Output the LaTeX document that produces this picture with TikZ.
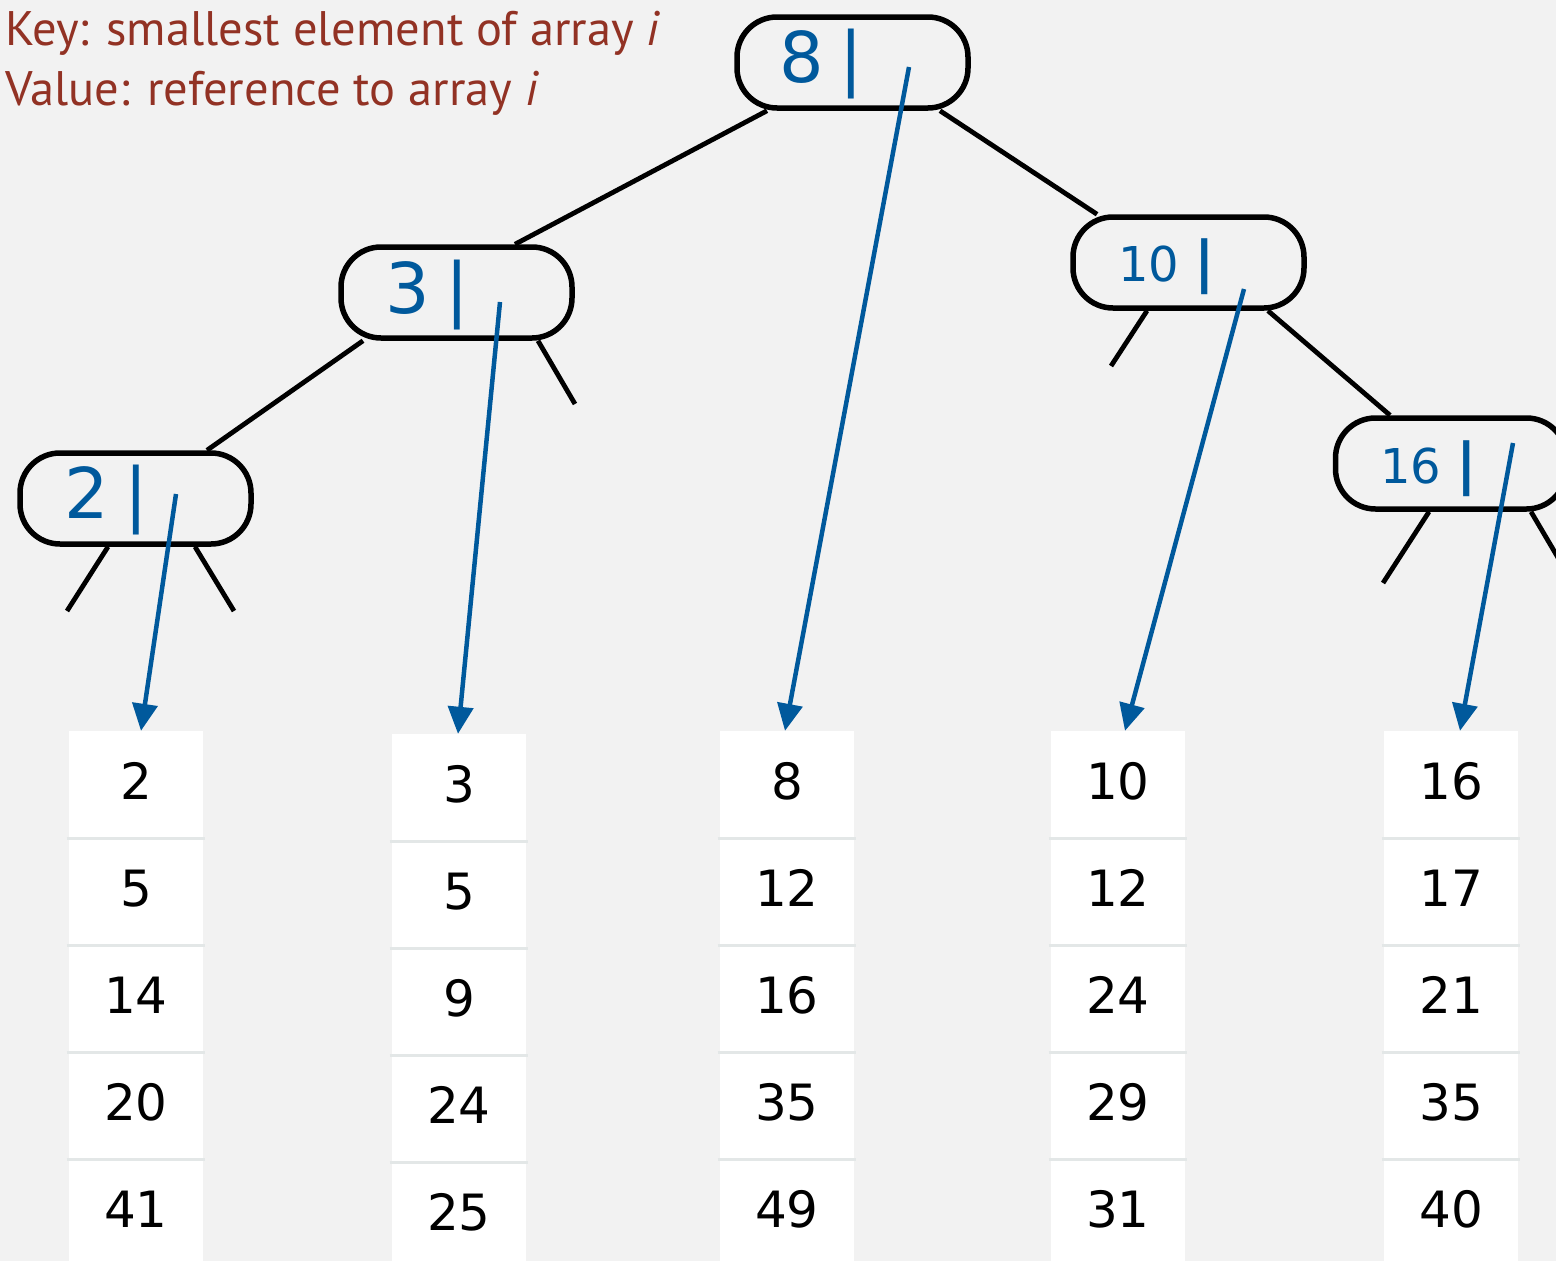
\documentclass[tikz,border=0pt]{standalone}
\usepackage{fontspec}
\setmainfont{DejaVu Sans}
\newfontfamily\keyfont{PT Sans}
\usetikzlibrary{arrows.meta,calc}
\definecolor{bg}{HTML}{F2F2F2}
\definecolor{keyred}{HTML}{923224}
\definecolor{refblue}{HTML}{00599C}
\definecolor{sepgray}{HTML}{E3E7E7}
\begin{document}
\begin{tikzpicture}[x=1pt,y=-1pt,
  treebox/.style={draw=black, line width=5.5pt, rounded corners=40pt, minimum width=231pt, minimum height=91pt, inner sep=0pt},
  edge/.style={draw=black, line width=4.8pt},
  refarrow/.style={draw=refblue, line width=4.5pt, -{Triangle[length=27pt,width=25pt]}},
  bigkey/.style={text=refblue, font=\fontsize{70}{70}\selectfont, anchor=base west, inner sep=0pt},
  smallkey/.style={text=refblue, font=\fontsize{48}{48}\selectfont, anchor=base west, inner sep=0pt},
  keytext/.style={text=keyred, font=\keyfont\fontsize{48.5}{48.5}\selectfont, anchor=base west, inner sep=0pt},
  cell/.style={fill=white, minimum width=134pt, minimum height=107pt, inner sep=0pt, text height=36pt, text depth=6pt, font=\fontsize{50}{50}\selectfont},
  sepline/.style={draw=sepgray, line width=3pt}
]
\useasboundingbox (0,0) rectangle (1556,1261);
\fill[bg] (0,0) rectangle (1556,1261);
\clip (0,0) rectangle (1556,1261);

% legend
\node[keytext] (key1) at (5,45) {Key: smallest element of array \textit{i}};
\node[keytext] (key2) at (5,105) {Value: reference to array \textit{i}};

% array columns
\foreach \col/\x/\dy/\a/\b/\c/\d/\e in {1/136/0/2/5/14/20/41, 2/459/3/3/5/9/24/25, 3/787/0/8/12/16/35/49, 4/1118/0/10/12/24/29/31, 5/1451/0/16/17/21/35/40}{
  \foreach \v [count=\r] in {\a,\b,\c,\d,\e} {
    \node[cell] (c\col-\r) at (\x, {731+\dy+(\r-1)*107+53.5}) {\v};
  }
  \foreach \r in {1,...,4} {
    \draw[sepline] ([xshift=-2pt]c\col-\r.south west) -- ([xshift=2pt]c\col-\r.south east);
  }
}

% tree nodes
\node[treebox] (root) at (852.5,62.5) {};
\node[treebox] (n3) at (456.5,292.5) {};
\node[treebox] (n10) at (1188.5,262.5) {};
\node[treebox] (n16) at (1451,463.5) {};
\node[treebox] (n2) at (135.5,498.5) {};

\node[bigkey] (t8) at (779,82) {8\hspace{0.22em}|};
\node[bigkey] (t3) at (385,313) {3\hspace{0.22em}|};
\node[bigkey] (t2) at (64,518) {2\hspace{0.22em}|};
\node[smallkey] (t10) at (1118,281) {10 {\fontsize{56}{56}\selectfont\bfseries |}};
\node[smallkey] (t16) at (1380,483) {16 {\fontsize{56}{56}\selectfont\bfseries |}};

% tree edges
\draw[edge] ([xshift=-85.5pt]root.south) -- ([xshift=58.5pt]n3.north);
\draw[edge] ([xshift=87.5pt]root.south) -- ([xshift=-91.5pt]n10.north);
\draw[edge] ([xshift=-93.5pt]n3.south) -- ([xshift=71.5pt]n2.north);
\draw[edge] ([xshift=79.5pt]n10.south) -- ([xshift=-61pt]n16.north);

% null-link stubs
\coordinate (s3r) at (575,404);
\coordinate (s10l) at (1111,366);
\coordinate (s16l) at (1383,583);
\coordinate (s16r) at (1570,578);
\coordinate (s2l) at (67,611);
\coordinate (s2r) at (234,611);
\draw[edge] ([xshift=81.5pt]n3.south) -- (s3r);
\draw[edge] ([xshift=-41.5pt]n10.south) -- (s10l);
\draw[edge] ([xshift=-22pt]n16.south) -- (s16l);
\draw[edge] ([xshift=80pt]n16.south) -- (s16r);
\draw[edge] ([xshift=-27.5pt]n2.south) -- (s2l);
\draw[edge] ([xshift=59.5pt]n2.south) -- (s2r);

% value references
\coordinate (a8) at (909,67);
\coordinate (a3) at (500,302);
\coordinate (a10) at (1244,289);
\coordinate (a16) at (1513,443);
\coordinate (a2) at (176,494);
\draw[refarrow] (a2) -- ([xshift=5pt]c1-1.north);
\draw[refarrow] (a3) -- ([xshift=-1pt]c2-1.north);
\draw[refarrow] (a8) -- ([xshift=-2pt]c3-1.north);
\draw[refarrow] (a10) -- ([xshift=7pt]c4-1.north);
\draw[refarrow] (a16) -- ([xshift=9pt]c5-1.north);
\end{tikzpicture}
\end{document}
